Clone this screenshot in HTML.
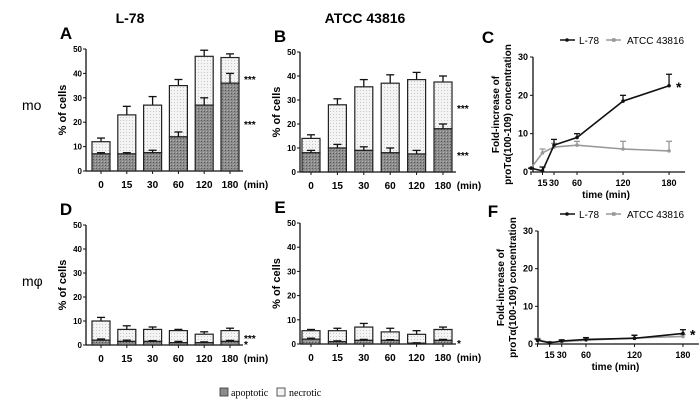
<!DOCTYPE html>
<html><head><meta charset="utf-8"><style>body{margin:0;background:#fff}svg{display:block;font-family:"Liberation Sans",Arial,sans-serif}</style></head>
<body>
<svg id="fig" width="700" height="402" viewBox="0 0 700 402">
<defs>
<pattern id="hatch" width="3" height="3" patternUnits="userSpaceOnUse"><rect width="3" height="3" fill="#8c8c8c"/><rect width="1" height="1" fill="#5a5a5a"/><rect x="2" y="2" width="1" height="1" fill="#b0b0b0"/></pattern>
<pattern id="dots" width="3" height="3" patternUnits="userSpaceOnUse"><rect width="3" height="3" fill="#f4f4f4"/><rect width="1" height="1" fill="#c8c8c8"/></pattern>
</defs>
<text x="130" y="23" font-size="14" font-weight="bold" text-anchor="middle">L-78</text>
<text x="365" y="23" font-size="14" font-weight="bold" text-anchor="middle">ATCC 43816</text>
<text x="22" y="110" font-size="14">mo</text>
<text x="22" y="286" font-size="14">mφ</text>
<g id="legend">
<rect x="220" y="388" width="8" height="8" fill="#8c8c8c" stroke="#333" stroke-width="0.8"/>
<text x="231" y="396" font-size="10" font-family="Liberation Serif,serif">apoptotic</text>
<rect x="277" y="388" width="8" height="8" fill="#f4f4f4" stroke="#333" stroke-width="0.8"/>
<text x="289" y="396" font-size="10" font-family="Liberation Serif,serif">necrotic</text>
</g>
</svg>
<script>
const cats=["0","15","30","60","120","180"];
const yTicks=[0,10,20,30,40,50];
const aApo=[7,7,7.5,14,27,36], aApoErr=[0.5,0.5,1,2,3,4], aTot=[12,23,27,35,47,46.5], aTotErr=[1.5,3.5,3.5,2.5,2.5,1.5];
const bApo=[8,10,9,8,7.5,18], bApoErr=[1,1.5,1.5,2,1.5,2], bTot=[14,28,35.5,37,38.5,37.5], bTotErr=[1.5,2.5,3,3.5,3,2.5];
const dApo=[2,1.5,1.5,1,1,1.5], dApoErr=[0.5,0.5,0.3,0.5,0.3,0.4], dTot=[10,6.5,6.5,6,4.5,6], dTotErr=[1.5,1.5,1,0.5,1,1];
const eApo=[2,1,1.5,1.5,0.3,1.5], eApoErr=[0.4,0.3,0.4,0.3,0.2,0.4], eTot=[5.5,5.5,7,5,4,6], eTotErr=[0.5,1,1.5,1.5,1.5,1];
const times=[0,15,30,60,120,180];
const lineTicks=[0,10,20,30];
const cL78=[1,0.3,7,9,18.5,22.5], cL78Err=[0,1,1.5,1,1.5,3];
const cATCC=[1,5,6.5,7,6,5.5], cATCCErr=[0,1,1,1,2,2.5];
const fL78=[1,0.3,0.8,1.2,1.5,2.8], fL78Err=[0.3,0.2,0.3,0.5,0.8,1];
const fATCC=[1.2,0.4,0.6,1,1.6,2], fATCCErr=[0.3,0.2,0.3,0.3,0.8,0.5];
const NS="http://www.w3.org/2000/svg", svg=document.getElementById('fig');
function mk(t,a,p){const e=document.createElementNS(NS,t);for(const k in a)e.setAttribute(k,a[k]);(p||svg).appendChild(e);return e;}
function txt(x,y,s,size,anchor,p,w){const e=mk('text',{x:x,y:y,'font-size':size,'text-anchor':anchor||'middle','font-weight':w||'bold'},p);e.textContent=s;return e;}
function errBar(g,x,y1,y2){mk('line',{x1:x,y1:y1,x2:x,y2:y2,stroke:'#111','stroke-width':1.3},g);mk('line',{x1:x-4,y1:y2,x2:x+4,y2:y2,stroke:'#111','stroke-width':1.3},g);}
function barPanel(name,letter,ax,y0,y50,x0,step,apo,apoE,tot,totE,stars){
  const g=mk('g',{});
  const ys=v=>y0-(y0-y50)*v/50, xs=i=>x0+i*step, bw=18;
  const L=txt(ax-20,y50-10,letter,17,'middle',g);
  const t=txt(0,0,'% of cells',11,'middle',g);t.setAttribute('transform','translate('+(ax-20)+','+((y0+y50)/2)+') rotate(-90)');
  
  mk('line',{x1:ax,y1:y0,x2:ax,y2:y50,stroke:'#111','stroke-width':1.3},g);
  mk('line',{x1:ax,y1:y0,x2:xs(5)+bw/2+4,y2:y0,stroke:'#111','stroke-width':1.3},g);
  yTicks.forEach(v=>{mk('line',{x1:ax-3,y1:ys(v),x2:ax,y2:ys(v),stroke:'#111'},g);const e=txt(ax-4,ys(v)+3,String(v),8,'end',g);});
  cats.forEach((c,i)=>{const x=xs(i);
    errBar(g,x,ys(tot[i]),ys(tot[i]+totE[i]));
    const r1=mk('rect',{x:x-bw/2,y:ys(tot[i]),width:bw,height:ys(apo[i])-ys(tot[i]),fill:'url(#dots)',stroke:'#222','stroke-width':1.2},g);
    
    const r2=mk('rect',{x:x-bw/2,y:ys(apo[i]),width:bw,height:y0-ys(apo[i]),fill:'url(#hatch)',stroke:'#222','stroke-width':1.2},g);
    
    errBar(g,x,ys(apo[i]),ys(apo[i]+apoE[i]));
    mk('line',{x1:x,y1:y0,x2:x,y2:y0+3,stroke:'#111'},g);
    const e=txt(x,y0+17,c,10,'middle',g);
  });
  txt(xs(5)+26,y0+17,'(min)',10,'middle',g);
  stars.forEach(s=>{const e=txt(xs(5)+bw/2+5,ys(s[0])+s[2],s[1],10,'start',g);});
}
barPanel('panel-a','A',86,171,49,101,25.8,aApo,aApoErr,aTot,aTotErr,[[aTot[5]-8,'***',6],[aApo[5]-16,'***',6]]);
barPanel('panel-b','B',300,172,52,311,26.4,bApo,bApoErr,bTot,bTotErr,[[bTot[5]-10,'***',6],[bApo[5]-10,'***',6]]);
barPanel('panel-d','D',86,345,225,101,25.8,dApo,dApoErr,dTot,dTotErr,[[3,'***',4],[0.5,'*',4]]);
barPanel('panel-e','E',300,344,223,311,26.4,eApo,eApoErr,eTot,eTotErr,[[0.5,'*',4]]);
function linePanel(name,letter,ax,y0,y30,xz,xsc,l78,l78E,at,atE,legY,starIdx){
  const g=mk('g',{});
  const ys=v=>y0-(y0-y30)*v/30, xs=t=>xz+xsc*t;
  const L=txt(ax-45,legY+3,letter,17,'middle',g);
  const lg=mk('g',{},g);
  mk('line',{x1:560,y1:legY,x2:575,y2:legY,stroke:'#111','stroke-width':1.5},lg);mk('circle',{cx:567,cy:legY,r:1.8,fill:'#111'},lg);
  txt(579,legY+4,'L-78',10,'start',lg,'normal');
  mk('line',{x1:606,y1:legY,x2:621,y2:legY,stroke:'#999','stroke-width':1.5},lg);mk('rect',{x:612,y:legY-1.8,width:3.6,height:3.6,fill:'#999'},lg);
  txt(627,legY+4,'ATCC 43816',10,'start',lg,'normal');
  const t=mk('text',{'font-size':10,'font-weight':'bold','text-anchor':'middle',transform:'translate('+(ax-34)+','+((y0+y30)/2)+') rotate(-90)'},g);
  
  const s1=mk('tspan',{x:0,dy:0},t);s1.textContent='Fold-increase of';const s2=mk('tspan',{x:0,dy:12},t);s2.textContent='proTα(100-109) concentration';
  mk('line',{x1:ax,y1:y0,x2:ax,y2:y30,stroke:'#111','stroke-width':1.3},g);
  mk('line',{x1:ax,y1:y0,x2:xs(180)+16,y2:y0,stroke:'#111','stroke-width':1.3},g);
  lineTicks.forEach(v=>{mk('line',{x1:ax-3,y1:ys(v),x2:ax,y2:ys(v),stroke:'#111'},g);const e=txt(ax-5,ys(v)+3,String(v),9,'end',g);});
  times.forEach((tm,i)=>{mk('line',{x1:xs(tm),y1:y0,x2:xs(tm),y2:y0+3,stroke:'#111'},g);if(tm>0){const e=txt(xs(tm),y0+14,String(tm),9,'middle',g);}});
  const xt=txt((ax+xs(180))/2+5,y0+26,'time (min)',10,'middle',g);
  [[at,atE,'#999','atcc'],[l78,l78E,'#111','l78']].forEach(([d,de,col,nm])=>{
    const eg=mk('g',{},g);
    times.forEach((tm,i)=>{mk('line',{x1:xs(tm),y1:ys(d[i]),x2:xs(tm),y2:ys(d[i]+de[i]),stroke:col,'stroke-width':1.3},eg);mk('line',{x1:xs(tm)-3,y1:ys(d[i]+de[i]),x2:xs(tm)+3,y2:ys(d[i]+de[i]),stroke:col,'stroke-width':1.3},eg);});
    const p=mk('polyline',{points:times.map((tm,i)=>xs(tm)+','+ys(d[i])).join(' '),fill:'none',stroke:col,'stroke-width':1.6},g);
    
    times.forEach((tm,i)=>{const c=mk('circle',{cx:xs(tm),cy:ys(d[i]),r:1.8,fill:col},g);});
  });
  const st=txt(xs(180)+7,ys(l78[starIdx])+6,'*',14,'start',g);
}
linePanel('panel-c','C',533,172,57,531,0.767,cL78,cL78Err,cATCC,cATCCErr,40,5);
linePanel('panel-f','F',538,344,231,537.5,0.808,fL78,fL78Err,fATCC,fATCCErr,214,5);
</script>
</body></html>
